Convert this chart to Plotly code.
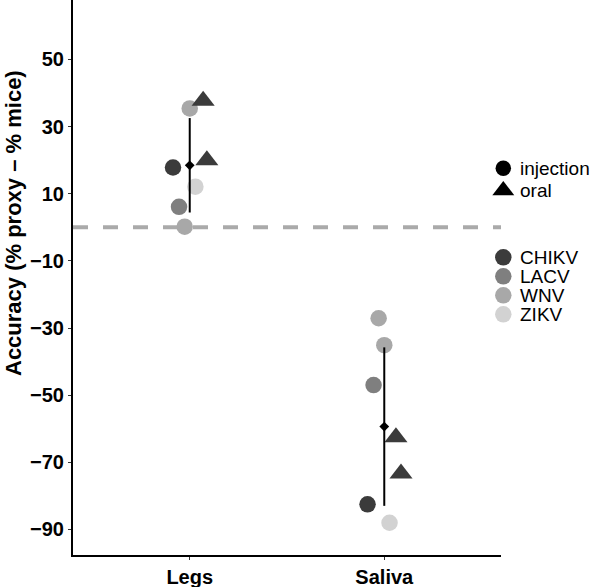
import numpy as np
import plotly.graph_objects as go

# ---------------- data ----------------
tissues = ["Legs", "Saliva"]
viruses = ["CHIKV", "LACV", "WNV", "ZIKV"]
routes = ["injection", "oral"]

point_tissue = ["Legs"] * 7 + ["Saliva"] * 7
point_virus = ["WNV", "CHIKV", "CHIKV", "CHIKV", "ZIKV", "LACV", "WNV",
               "WNV", "WNV", "LACV", "CHIKV", "CHIKV", "CHIKV", "ZIKV"]
point_route = ["injection", "oral", "oral", "injection", "injection", "injection", "injection",
               "injection", "injection", "injection", "oral", "oral", "injection", "injection"]
point_accuracy = [35.4, 37.7, 20.0, 17.8, 12.1, 6.1, 0.2,
                  -27.1, -35.1, -47.0, -62.5, -73.3, -82.5, -88.0]
point_jitter = [0.0, 0.069, 0.088, -0.086, 0.029, -0.055, -0.026,
                -0.029, 0.0, -0.055, 0.060, 0.086, -0.086, 0.027]

y_ticks = [50, 30, 10, -10, -30, -50, -70, -90]

# ---------------- style ----------------
W, H = 598, 587
virus_colors = {"CHIKV": "#3b3b3b", "LACV": "#7f7f7f", "WNV": "#a8a8a8", "ZIKV": "#d2d2d2"}
route_symbols = {"injection": "circle", "oral": "triangle-up"}
route_sizes = {"injection": 16.5, "oral": 20}
FONT = "Liberation Sans, Arial, Helvetica, sans-serif"

fig = go.Figure()

# horizontal reference at zero
fig.add_shape(type="line", xref="x domain", x0=0, x1=1, yref="y", y0=0, y1=0,
              line=dict(color="#aaaaaa", width=4, dash="15px,15px"), layer="below")

# points
xs = np.array([tissues.index(t) + 1 for t in point_tissue], float) + np.array(point_jitter)
ys = np.array(point_accuracy)
for route in routes:
    for v in viruses:
        idx = [i for i in range(len(ys)) if point_virus[i] == v and point_route[i] == route]
        if not idx:
            continue
        fig.add_trace(go.Scatter(
            x=xs[idx], y=ys[idx], mode="markers", showlegend=False,
            marker=dict(symbol=route_symbols[route], size=route_sizes[route],
                        color=virus_colors[v], line=dict(width=0)),
            name=f"{v} {route}", xaxis="x", yaxis="y"))

# mean +/- sd
for k, t in enumerate(tissues):
    vals = np.array([a for a, tt in zip(point_accuracy, point_tissue) if tt == t])
    m, sd = vals.mean(), vals.std(ddof=1)
    fig.add_trace(go.Scatter(x=[k + 1, k + 1], y=[m - sd, m + sd], mode="lines",
                             line=dict(color="black", width=2), showlegend=False))
    fig.add_trace(go.Scatter(x=[k + 1], y=[m], mode="markers", showlegend=False,
                             marker=dict(symbol="diamond", size=7.5, color="black")))

# ---------------- manual legend (pixel coordinates on an overlay axis) ----------------
leg_x_marker, leg_x_text = 503.3, 519
route_leg_y = [168.3, 190.5]
virus_leg_y = [257.3, 276.3, 295.3, 314.3]
for r, yy in zip(routes, route_leg_y):
    fig.add_trace(go.Scatter(x=[leg_x_marker], y=[yy], mode="markers", showlegend=False,
                             marker=dict(symbol=route_symbols[r], size=route_sizes[r] - 1,
                                         color="black"), xaxis="x2", yaxis="y2"))
    fig.add_annotation(x=leg_x_text / W, y=1 - yy / H, xref="paper", yref="paper",
                       text=r, showarrow=False, xanchor="left", yanchor="middle",
                       borderpad=0, font=dict(family=FONT, size=19, color="black"))
for v, yy in zip(viruses, virus_leg_y):
    fig.add_trace(go.Scatter(x=[leg_x_marker], y=[yy], mode="markers", showlegend=False,
                             marker=dict(symbol="circle", size=16.5, color=virus_colors[v]),
                             xaxis="x2", yaxis="y2"))
    fig.add_annotation(x=leg_x_text / W, y=1 - yy / H, xref="paper", yref="paper",
                       text=v, showarrow=False, xanchor="left", yanchor="middle",
                       borderpad=0, font=dict(family=FONT, size=19, color="black"))

# y-axis title
fig.add_annotation(x=14 / W, y=1 - 223 / H, xref="paper", yref="paper",
                   text="Accuracy (% proxy \u2013 % mice)", textangle=-90, showarrow=False,
                   xanchor="center", yanchor="middle",
                   font=dict(family=FONT, size=22, color="black", weight="bold"))

fig.update_layout(
    width=W, height=H, margin=dict(l=0, r=0, t=0, b=0),
    paper_bgcolor="white", plot_bgcolor="rgba(0,0,0,0)",
    font=dict(family=FONT, color="black"),
    xaxis=dict(domain=[73 / W, 501 / W], range=[0.4, 2.6], tickmode="array",
               tickvals=[1, 2], ticktext=tissues, showgrid=False, zeroline=False,
               showline=True, linecolor="black", linewidth=2, ticks="outside",
               ticklen=3, tickcolor="#333333", tickwidth=1, anchor="y",
               tickfont=dict(family=FONT, size=20, color="black", weight="bold")),
    yaxis=dict(domain=[32 / H, 1], range=[-97.6, 67.7], tickmode="array",
               tickvals=y_ticks, showgrid=False, zeroline=False,
               showline=True, linecolor="black", linewidth=2, ticks="outside",
               ticklen=3, tickcolor="#333333", tickwidth=1, anchor="x",
               tickfont=dict(family=FONT, size=20, color="black", weight="bold")),
    xaxis2=dict(domain=[0, 1], range=[0, W], visible=False, anchor="y2", fixedrange=True),
    yaxis2=dict(domain=[0, 1], range=[H, 0], visible=False, anchor="x2", fixedrange=True),
    showlegend=False,
)

fig.write_html("out.html", config={"displayModeBar": False},
               post_script="document.body.style.margin='0';document.body.style.overflow='hidden';")
